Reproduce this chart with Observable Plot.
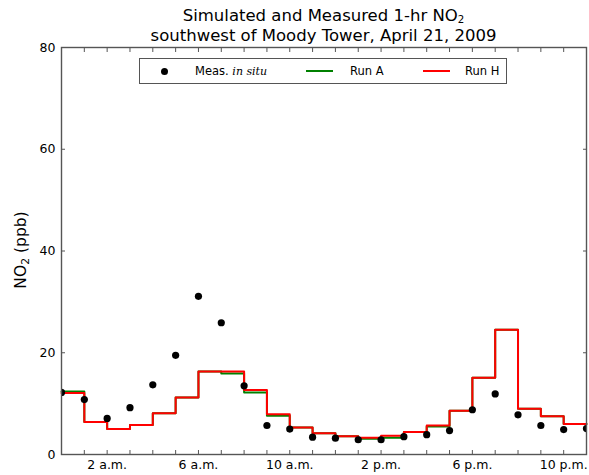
<!DOCTYPE html>
<html>
<head>
<meta charset="utf-8">
<script src="https://cdn.jsdelivr.net/npm/d3@7"></script>
<script src="https://cdn.jsdelivr.net/npm/@observablehq/plot@0.6"></script>
<style>
  body { margin: 0; background: #fff; font-family: "DejaVu Sans", sans-serif; }
  #fig { position: relative; width: 589px; height: 475px; overflow: hidden; }
  #fig svg { position: absolute; left: 0; top: 0; }
  .title { position: absolute; left: 61px; width: 525px; top: 6px; text-align: center;
           font-size: 16.5px; line-height: 19.5px; color: #000; }
  .title sub { font-size: 0.62em; line-height: 0; vertical-align: -0.15em; }
  .ylabel { position: absolute; left: 21px; top: 250px; transform: translate(-50%, -50%) rotate(-90deg);
            font-size: 15.5px; white-space: nowrap; color: #000; }
  .ylabel sub { font-size: 0.7em; line-height: 0; vertical-align: -0.3em; }
  .legend { position: absolute; left: 139px; top: 58px; width: 366px; height: 24px;
            border: 1px solid #555; background: #fff; font-size: 11.5px; }
  .legend .item { position: absolute; top: 0; height: 24px; line-height: 24px; white-space: nowrap; }
  .legend .sw { position: absolute; top: 11px; height: 2px; }
  .legend .dot { position: absolute; top: 8.5px; width: 7px; height: 7px; border-radius: 50%; background: #000; }
  .legend i { font-family: "DejaVu Serif", serif; font-size: 11px; }
</style>
</head>
<body>
<div id="fig">
  <div class="title">Simulated and Measured 1-hr NO<sub>2</sub><br>southwest of Moody Tower, April 21, 2009</div>
  <div class="ylabel">NO<sub>2</sub> (ppb)</div>
</div>
<script>
// Hour of day (local time), hourly values for April 21, 2009
const hours = d3.range(0, 24);

// Measured in-situ NO2 (ppb)
const measured = [12.2, 10.8, 7.1, 9.2, 13.7, 19.5, 31.1, 25.9, 13.5, 5.7, 5.0, 3.4,
                  3.2, 2.9, 2.9, 3.5, 3.9, 4.7, 8.8, 11.9, 7.8, 5.7, 4.9, 5.1];

// Simulated NO2 (ppb), Run A
const runA = [12.4, 6.4, 5.0, 5.8, 8.1, 11.2, 16.3, 15.9, 12.2, 7.6, 5.3, 4.2,
              3.6, 3.1, 3.3, 4.4, 5.5, 8.6, 15.1, 24.5, 9.0, 7.5, 6.0, 6.0];

// Simulated NO2 (ppb), Run H
const runH = [12.1, 6.4, 5.0, 5.8, 8.1, 11.2, 16.3, 16.3, 12.7, 7.9, 5.3, 4.2,
              3.6, 3.3, 3.7, 4.4, 5.7, 8.6, 15.1, 24.5, 9.0, 7.5, 6.0, 6.0];

// Axis ticks and labels
const xLabelHours = [2, 6, 10, 14, 18, 22];
const xLabels = ["2 a.m.", "6 a.m.", "10 a.m.", "2 p.m.", "6 p.m.", "10 p.m."];
const yTicks = [0, 20, 40, 60, 80];

// Series styling for the legend and the lines
const seriesNames = ["Meas. in situ", "Run A", "Run H"];
const seriesColors = ["#000000", "#008000", "#ff0000"];

const rows = hours.map((h, i) => ({hour: h, meas: measured[i], a: runA[i], h: runH[i]}));
const axisColor = "#555";

const chart = Plot.plot({
  width: 589,
  height: 475,
  marginTop: 47,
  marginBottom: 21,
  marginLeft: 61,
  marginRight: 3,
  x: {domain: [0, 23], label: null},
  y: {domain: [0, 80], label: null},
  style: {fontFamily: "DejaVu Sans", fontSize: "12.5px", color: "#000", background: "transparent"},
  marks: [
    Plot.line(rows, {x: "hour", y: "a", curve: "step-after", stroke: seriesColors[1], strokeWidth: 2}),
    Plot.line(rows, {x: "hour", y: "h", curve: "step-after", stroke: seriesColors[2], strokeWidth: 2}),
    Plot.dot(rows, {x: "hour", y: "meas", r: 3.6, fill: seriesColors[0], stroke: "none", clip: true}),
    Plot.frame({stroke: axisColor, strokeWidth: 1.4}),
    // inward tick marks on all four sides
    Plot.axisX(hours, {anchor: "bottom", tickSize: -4, tickFormat: () => "", stroke: axisColor, label: null}),
    Plot.axisX(hours, {anchor: "top", tickSize: -4, tickFormat: () => "", stroke: axisColor, label: null}),
    Plot.axisY(yTicks, {anchor: "left", tickSize: -4, tickFormat: () => "", stroke: axisColor, label: null}),
    Plot.axisY(yTicks, {anchor: "right", tickSize: -4, tickFormat: () => "", stroke: axisColor, label: null}),
    // tick labels
    Plot.axisX(xLabelHours, {anchor: "bottom", tickSize: 0, tickPadding: 6,
      tickFormat: d => xLabels[xLabelHours.indexOf(d)], label: null}),
    Plot.axisY(yTicks, {anchor: "left", tickSize: 0, tickPadding: 6, label: null})
  ]
});
const fig = document.getElementById("fig");
fig.insertBefore(chart, fig.firstChild);

// Legend box
const legend = document.createElement("div");
legend.className = "legend";
const entries = [
  {kind: "dot", swatchLeft: 21, textLeft: 55},
  {kind: "line", swatchLeft: 166, textLeft: 210},
  {kind: "line", swatchLeft: 283, textLeft: 325}
];
entries.forEach((e, i) => {
  const sw = document.createElement("div");
  if (e.kind === "dot") {
    sw.className = "dot";
    sw.style.left = e.swatchLeft + "px";
  } else {
    sw.className = "sw";
    sw.style.left = e.swatchLeft + "px";
    sw.style.width = "27px";
    sw.style.background = seriesColors[i];
  }
  legend.appendChild(sw);
  const label = document.createElement("div");
  label.className = "item";
  label.style.left = e.textLeft + "px";
  if (i === 0) {
    const [first, ...rest] = seriesNames[0].split(" ");
    label.innerHTML = first + " <i>" + rest.join(" ") + "</i>";
  } else {
    label.textContent = seriesNames[i];
  }
  legend.appendChild(label);
});
fig.appendChild(legend);
</script>
</body>
</html>
